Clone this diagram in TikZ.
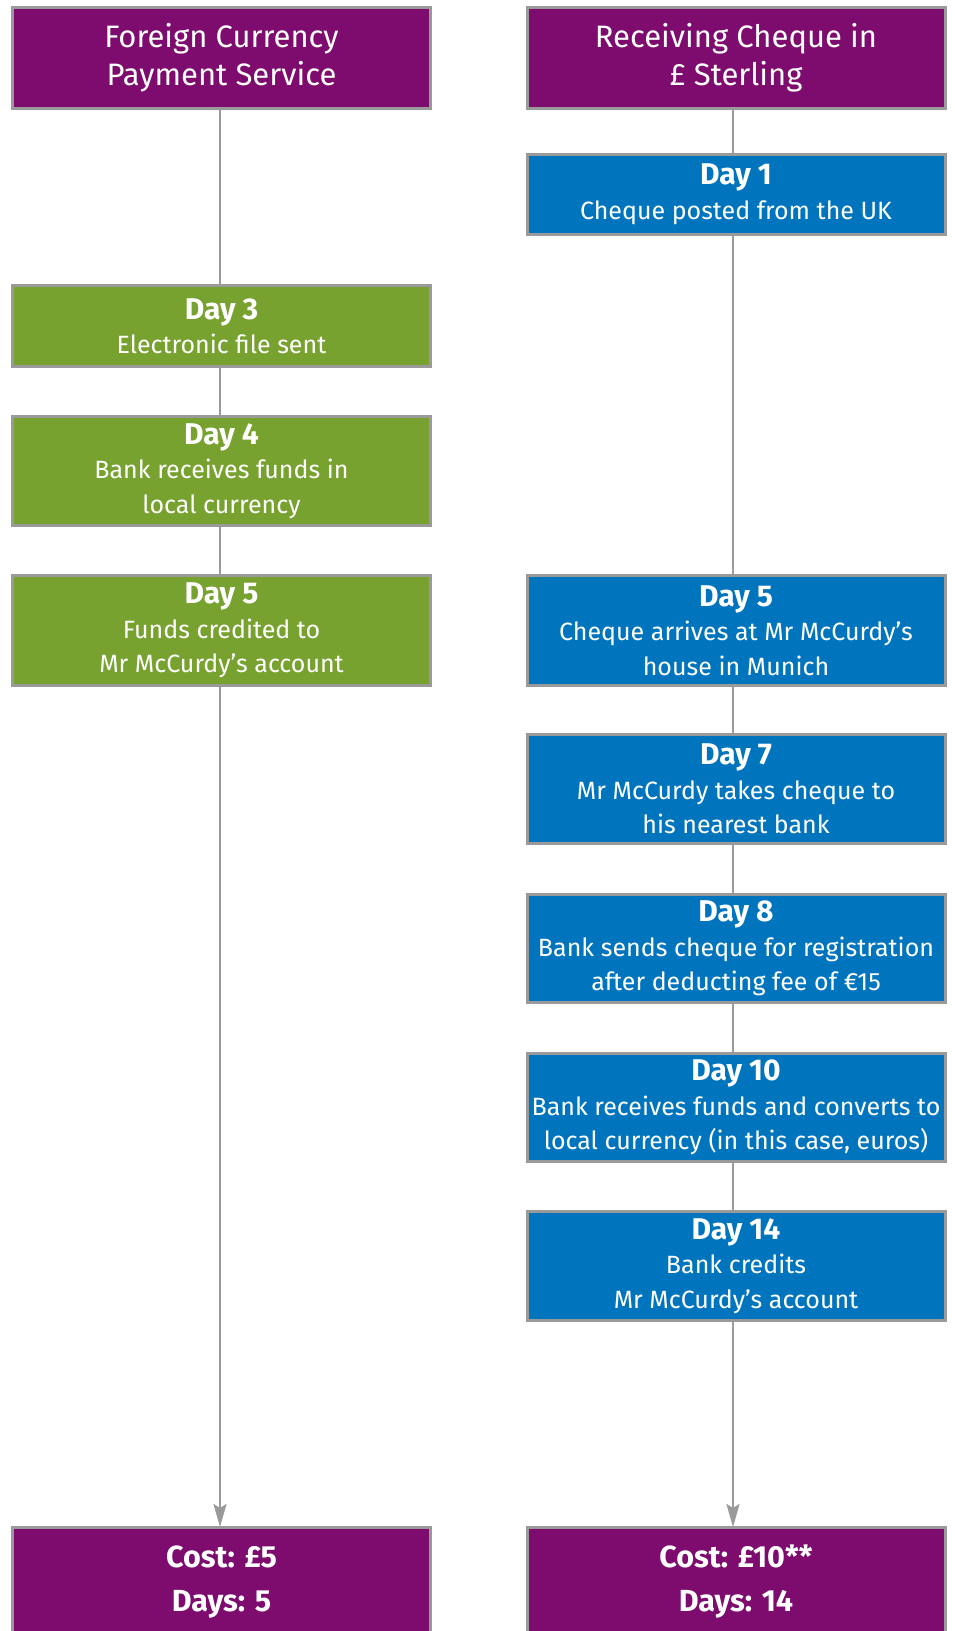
\documentclass[tikz,border=0pt]{standalone}
\usepackage{fontspec}
\setmainfont{Fira Sans}
\usetikzlibrary{arrows.meta}
\definecolor{cpurple}{HTML}{7D0C6E}
\definecolor{cgreen}{HTML}{78A22F}
\definecolor{cblue}{HTML}{0075BE}
\definecolor{cgrey}{HTML}{9A9A9A}
\newcommand{\bodyf}{\fontsize{25}{34.5}\selectfont}
\newcommand{\dayf}{\fontsize{30}{34.5}\selectfont\bfseries}
\newcommand{\titf}{\fontsize{31}{38}\selectfont}
\newcommand{\botf}{\fontsize{30.5}{43}\selectfont\bfseries}
\tikzset{
  box/.style={draw=cgrey, line width=3pt, text=white, inner sep=0pt,
    minimum width=418pt, align=center, font=\bodyf},
  hdrbox/.style={box, fill=cpurple, font=\titf},
  greenbox/.style={box, fill=cgreen},
  bluebox/.style={box, fill=cblue},
  botbox/.style={box, fill=cpurple, font=\botf},
  conn/.style={draw=cgrey, line width=2.7pt},
  arr/.style={conn, -{Stealth[length=23pt,width=13pt,inset=4pt]}}
}
\begin{document}
\begin{tikzpicture}[x=1pt,y=-1pt]
\useasboundingbox (0,0) rectangle (955,1631);
\coordinate (lineL) at (220,0);
\coordinate (lineR) at (733,0);
% left column
\node[hdrbox, minimum height=101pt] (hdrL) at (221.5,58) {Foreign Currency\\Payment Service};
\node[greenbox, minimum height=81pt] (d3L) at (221.5,326) {{\dayf Day 3}\\Electronic file sent};
\node[greenbox, minimum height=109pt] (d4L) at (221.5,471) {{\dayf Day 4}\\Bank receives funds in\\local currency};
\node[greenbox, minimum height=110pt] (d5L) at (221.5,630.5) {{\dayf Day 5}\\Funds credited to\\Mr McCurdy’s account};
\node[botbox, minimum height=110pt] (botL) at (221.5,1582) {};
% right column
\node[hdrbox, minimum height=101pt] (hdrR) at (736,58) {Receiving Cheque in\\£ Sterling};
\node[bluebox, minimum height=80pt] (d1R) at (736,194.5) {{\dayf Day 1}\\Cheque posted from the UK};
\node[bluebox, minimum height=110pt] (d5R) at (736,630.5) {{\dayf Day 5}\\Cheque arrives at Mr McCurdy’s\\house in Munich};
\node[bluebox, minimum height=109pt] (d7R) at (736,789) {{\dayf Day 7}\\Mr McCurdy takes cheque to\\his nearest bank};
\node[bluebox, minimum height=108pt] (d8R) at (736,948.5) {{\dayf Day 8}\\Bank sends cheque for registration\\after deducting fee of €15};
\node[bluebox, minimum height=108pt] (d10R) at (736,1107.5) {{\dayf Day 10}\\Bank receives funds and converts to\\local currency (in this case, euros)};
\node[bluebox, minimum height=109pt] (d14R) at (736,1266) {{\dayf Day 14}\\Bank credits\\Mr McCurdy’s account};
\node[botbox, minimum height=110pt] (botR) at (736,1582) {};
% bottom texts
\node[font=\botf, text=white, align=center, anchor=base] (costL) at (221.5,1567) {Cost: £5};
\node[font=\botf, text=white, align=center, anchor=base] (daysL) at (221.5,1611) {Days: 5};
\node[font=\botf, text=white, align=center, anchor=base] (costR) at (736,1567) {Cost: £10**};
\node[font=\botf, text=white, align=center, anchor=base] (daysR) at (736,1611) {Days: 14};
% connectors
\draw[conn] (hdrL.south -| lineL) -- (d3L.north -| lineL);
\draw[conn] (d3L.south -| lineL) -- (d4L.north -| lineL);
\draw[conn] (d4L.south -| lineL) -- (d5L.north -| lineL);
\draw[arr] (d5L.south -| lineL) -- ([yshift=-1.5pt]botL.north -| lineL);
\draw[conn] (hdrR.south -| lineR) -- (d1R.north -| lineR);
\draw[conn] (d1R.south -| lineR) -- (d5R.north -| lineR);
\draw[conn] (d5R.south -| lineR) -- (d7R.north -| lineR);
\draw[conn] (d7R.south -| lineR) -- (d8R.north -| lineR);
\draw[conn] (d8R.south -| lineR) -- (d10R.north -| lineR);
\draw[conn] (d10R.south -| lineR) -- (d14R.north -| lineR);
\draw[arr] (d14R.south -| lineR) -- ([yshift=-1.5pt]botR.north -| lineR);
\end{tikzpicture}
\end{document}
